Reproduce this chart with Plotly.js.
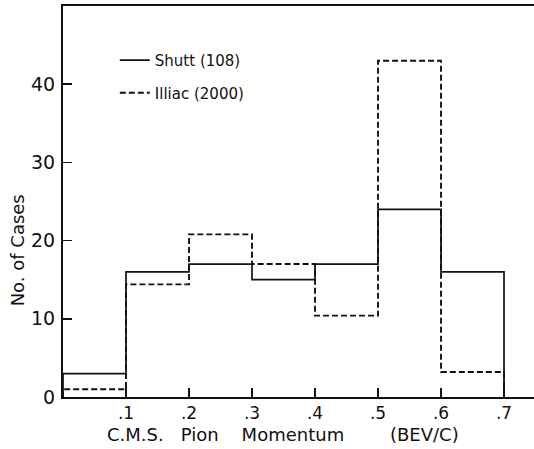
<!DOCTYPE html>
<html>
<head>
<meta charset="utf-8">
<script src="https://cdn.plot.ly/plotly-3.0.1.min.js"></script>
<style>html,body{margin:0;padding:0;background:#fff;}#chart{width:534px;height:449px;}</style>
</head>
<body>
<div id="chart"></div>
<script>
// Bin edges of C.M.S. pion momentum (BEV/c)
const binEdges = [0, 0.1, 0.2, 0.3, 0.4, 0.5, 0.6, 0.7];
// Counts per bin
const shuttCounts = [3, 16, 17, 15, 17, 24, 16];
const illiacCounts = [1, 14.4, 20.8, 17, 10.4, 43, 3.2];
const xTickVals = [0.1, 0.2, 0.3, 0.4, 0.5, 0.6, 0.7];
const xTickText = ['.1', '.2', '.3', '.4', '.5', '.6', '.7'];
const yTickVals = [0, 10, 20, 30, 40];
const yTickText = ['0', '10', '20', '30', '40'];

function stepXY(edges, counts) {
  const x = [edges[0]].concat(edges);
  const y = [0].concat(counts, [counts[counts.length - 1]]);
  x.push(edges[edges.length - 1]);
  y.push(0);
  return {x, y};
}
const s = stepXY(binEdges, shuttCounts);
const il = stepXY(binEdges, illiacCounts);

const FONT = 'DejaVu Sans, Arial, sans-serif';
const traces = [
  {x: s.x, y: s.y, type: 'scatter', mode: 'lines', line: {shape: 'hv', color: '#111', width: 1.7},
   name: 'Shutt (108)', legendgroup: 'a'},
  {x: il.x, y: il.y, type: 'scatter', mode: 'lines', line: {shape: 'hv', color: '#111', width: 1.9, dash: '6px,3px'},
   name: 'Illiac (2000)', legendgroup: 'b'}
];
const layout = {
  width: 534, height: 449,
  margin: {l: 63, r: 0, t: 6, b: 52},
  paper_bgcolor: '#fff', plot_bgcolor: '#fff',
  font: {family: FONT, size: 15, color: '#111'},
  showlegend: true,
  legend: {x: 0.11, y: 0.903, xanchor: 'left', yanchor: 'top', bgcolor: 'rgba(0,0,0,0)',
           traceorder: 'grouped', tracegroupgap: 10, font: {family: FONT, size: 15, color: '#111'}},
  xaxis: {range: [0, 0.7476], showgrid: false, zeroline: false, showline: true, linecolor: '#111', linewidth: 2,
          mirror: true, ticks: 'inside', ticklen: 9, tickwidth: 1.5, tickcolor: '#111',
          tickvals: xTickVals, ticktext: xTickText, tickfont: {size: 17}, fixedrange: true},
  yaxis: {range: [0, 50], showgrid: false, zeroline: false, showline: true, linecolor: '#111', linewidth: 2,
          ticks: 'inside', ticklen: 9, tickwidth: 1.5, tickcolor: '#111',
          tickvals: yTickVals, ticktext: yTickText, tickfont: {size: 19}, ticklabelstandoff: 2, fixedrange: true},
  annotations: [
    {text: 'No. of Cases', xref: 'paper', yref: 'paper', x: -0.0977, y: 0.375, textangle: -90,
     showarrow: false, font: {family: FONT, size: 18, color: '#111'}, xanchor: 'center', yanchor: 'middle'},
    {text: 'C.M.S.\u00a0\u00a0\u00a0Pion\u00a0\u00a0\u00a0\u00a0Momentum\u00a0\u00a0\u00a0\u00a0\u00a0\u00a0\u00a0\u00a0(BEV/C)', xref: 'paper', yref: 'paper',
     x: 0.468, y: -0.097, showarrow: false, font: {family: FONT, size: 18, color: '#111'}, xanchor: 'center', yanchor: 'middle'}
  ]
};
Plotly.newPlot('chart', traces, layout, {displayModeBar: false, staticPlot: true});
</script>
</body>
</html>
